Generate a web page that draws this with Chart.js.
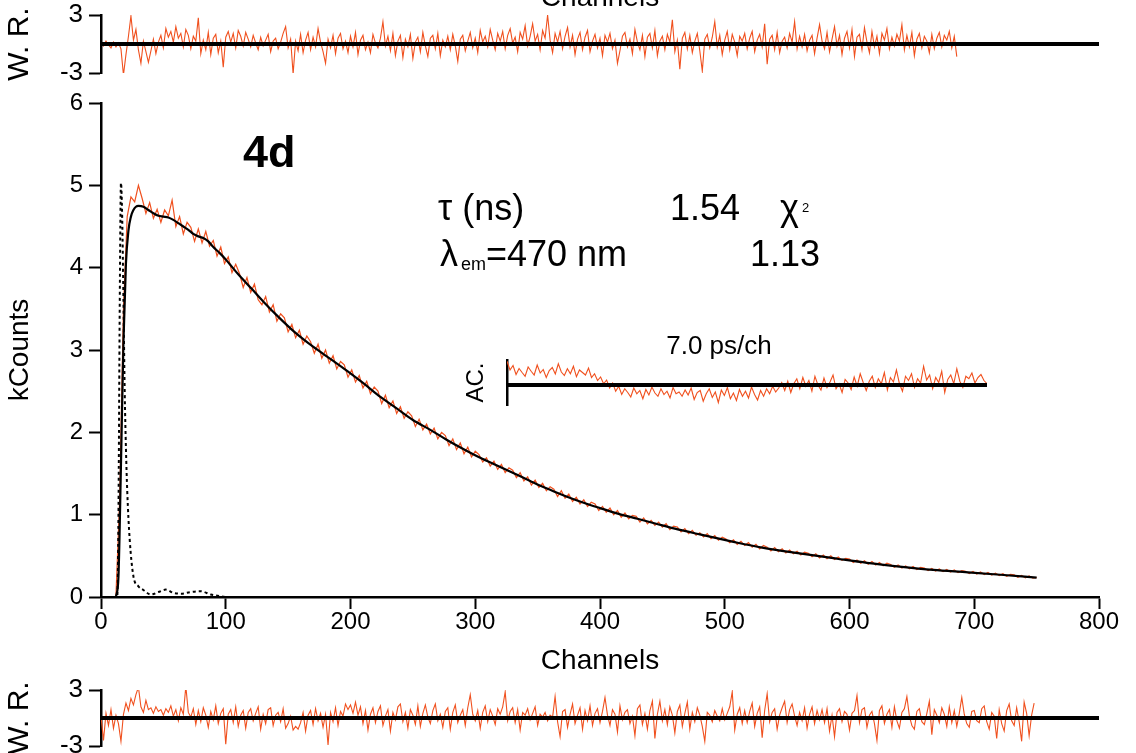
<!DOCTYPE html>
<html>
<head>
<meta charset="utf-8">
<title>4d decay</title>
<script src="https://cdn.jsdelivr.net/npm/chart.js@4.4.1/dist/chart.umd.min.js"></script>
<style>
  html, body { margin: 0; padding: 0; background: #fff; overflow: hidden; }
  #wrap { position: relative; width: 1136px; height: 753px; overflow: hidden; background: #fff; }
  #wrap canvas { position: absolute; left: 0; }
</style>
</head>
<body>
<div id="wrap">
  <canvas id="top-res" width="1136" height="96" style="top:-4px"></canvas>
  <canvas id="decay" width="1136" height="615" style="top:85px"></canvas>
  <canvas id="bottom-res" width="1136" height="100" style="top:670px"></canvas>
  <canvas id="ac" width="580" height="100" style="top:320px;left:440px"></canvas>
</div>
<script>
const FONT = '"Liberation Sans", Arial, Helvetica, sans-serif'
const ORANGE = '#f0501e'

// fitted decay curve (kCounts) at selected channels
const fitChannels = [12, 14, 16, 18, 20, 22, 24, 26, 28, 30, 34, 38, 42, 46, 50, 54, 58, 62, 66, 70,
	74, 78, 82, 86, 90, 95, 100, 110, 121, 130, 143, 155, 170, 185, 197, 210, 224, 237, 250, 264,
	277, 290, 304, 317, 330, 344, 357, 370, 384, 400, 415, 430, 445, 460, 480, 507, 530, 560, 590, 614,
	640, 667, 695, 721, 750]
const fitCounts = [0, 0.25, 1.6, 3.1, 4.05, 4.45, 4.62, 4.70, 4.74, 4.75, 4.74, 4.70, 4.66, 4.63, 4.62, 4.61, 4.58, 4.54, 4.50, 4.46,
	4.41, 4.38, 4.36, 4.32, 4.25, 4.18, 4.10, 3.92, 3.74, 3.59, 3.39, 3.22, 3.04, 2.88, 2.75, 2.60, 2.43, 2.29, 2.15, 2.03,
	1.91, 1.80, 1.69, 1.60, 1.51, 1.41, 1.32, 1.24, 1.16, 1.08, 1.01, 0.95, 0.89, 0.83, 0.76, 0.67, 0.60, 0.53, 0.465, 0.415,
	0.37, 0.33, 0.30, 0.27, 0.235]

// instrument response (dotted)
const irfChannels = [10, 13, 14, 15, 16, 17, 18, 19, 20, 21, 23, 26, 30, 34, 40, 46, 52, 58, 64, 72, 80, 88, 96, 100]
const irfCounts = [0, 0, 1.0, 3.5, 5.03, 4.6, 3.6, 2.5, 1.8, 1.3, 0.7, 0.25, 0.13, 0.085, 0.03, 0.06, 0.09, 0.05, 0.04, 0.06, 0.07, 0.03, 0.01, 0]

// measured decay, every 3rd channel from channel 12
const decayFirst = 12
const decayStep = 3
const decayCounts = [
	0.02, 1.2, 3.5, 4.62, 4.86, 4.80, 5.00, 4.84, 4.66, 4.79,
	4.60, 4.71, 4.55, 4.70, 4.63, 4.82, 4.50, 4.62, 4.41, 4.55,
	4.49, 4.32, 4.47, 4.30, 4.44, 4.26, 4.33, 4.14, 4.25, 4.05,
	4.13, 3.94, 4.04, 3.93, 3.76, 3.88, 3.70, 3.80, 3.61, 3.55,
	3.65, 3.46, 3.55, 3.35, 3.44, 3.39, 3.22, 3.31, 3.15, 3.24,
	3.07, 3.17, 3.10, 2.96, 3.07, 2.90, 3.00, 2.84, 2.93, 2.77,
	2.86, 2.82, 2.67, 2.76, 2.61, 2.69, 2.54, 2.62, 2.47, 2.55,
	2.50, 2.35, 2.45, 2.30, 2.38, 2.23, 2.31, 2.17, 2.25, 2.20,
	2.07, 2.16, 2.03, 2.10, 1.98, 2.05, 1.92, 2.00, 1.96, 1.84,
	1.92, 1.79, 1.87, 1.74, 1.82, 1.70, 1.77, 1.73, 1.64, 1.69,
	1.59, 1.65, 1.55, 1.61, 1.51, 1.57, 1.54, 1.45, 1.51, 1.41,
	1.46, 1.36, 1.42, 1.33, 1.38, 1.29, 1.34, 1.31, 1.22, 1.29,
	1.20, 1.25, 1.16, 1.21, 1.13, 1.18, 1.10, 1.15, 1.13, 1.05,
	1.10, 1.03, 1.08, 1.00, 1.05, 0.97, 1.02, 0.95, 0.99, 0.98,
	0.91, 0.96, 0.89, 0.93, 0.87, 0.91, 0.85, 0.89, 0.82, 0.86,
	0.85, 0.79, 0.83, 0.77, 0.81, 0.75, 0.78, 0.73, 0.77, 0.71,
	0.745, 0.69, 0.725, 0.705, 0.66, 0.695, 0.64, 0.675, 0.625, 0.66,
	0.605, 0.64, 0.585, 0.625, 0.605, 0.56, 0.60, 0.55, 0.585, 0.535,
	0.57, 0.525, 0.555, 0.51, 0.545, 0.53, 0.49, 0.525, 0.475, 0.51,
	0.465, 0.50, 0.455, 0.485, 0.445, 0.47, 0.46, 0.42, 0.45, 0.41,
	0.44, 0.398, 0.43, 0.39, 0.418, 0.38, 0.41, 0.395, 0.36, 0.39,
	0.352, 0.378, 0.343, 0.37, 0.335, 0.36, 0.352, 0.32, 0.347, 0.315,
	0.34, 0.308, 0.334, 0.302, 0.327, 0.296, 0.32, 0.312, 0.286, 0.31,
	0.28, 0.303, 0.272, 0.297, 0.266, 0.29, 0.26, 0.282, 0.252, 0.275,
	0.268, 0.24, 0.262, 0.234, 0.255, 0.228, 0.238]

// weighted residuals, every 2nd channel from channel 0
const resStep = 2
const resTop = [
	0.1, -0.2, 0.3, -0.1, -0.4, 0.2, -0.3, 0.1, -0.5, -3.2, -1.1, 0.8, 2.9, 0.4, 1.5, -0.6, -2.0, 0.3, -0.8, -1.9,
	-0.7, 0.5, -1.0, 0.2, 0.9, -0.4, 1.6, 0.7, 1.3, 0.2, 1.8, 0.6, 1.1, -0.3, 1.5, 0.9, -0.5, 0.8, 0.3, 2.7,
	-1.0, 0.4, -0.6, 1.2, -1.1, 0.6, 1.0, -0.9, 0.3, -2.4, 0.7, 1.3, 0.2, 1.1, -0.4, 1.4, 0.8, -0.2, 1.2, 0.5,
	-0.3, 0.9, 0.1, -0.6, 0.7, -0.2, 0.4, 1.0, -0.8, 0.3, 0.6, -0.5, 0.2, 1.1, 1.8, -0.4, 0.5, -3.1, 0.3, -0.7,
	1.0, -0.9, 0.4, 1.2, -0.6, 0.7, -0.3, 1.6, 0.2, -0.8, -2.0, 0.5, -0.4, 0.9, -1.0, 0.6, 1.1, -0.5, 0.3, -0.9,
	0.8, -0.3, 1.2, -1.1, 0.4, 0.9, -0.6, 0.2, -0.9, 1.0, 0.1, -0.4, 0.6, 2.3, -0.2, 0.8, -0.7, 1.1, -1.2, 0.3,
	0.9, -1.4, 0.5, -0.3, 1.0, -1.5, 0.2, 0.7, -0.8, 1.2, -0.2, -1.3, 0.6, 0.9, -0.5, 1.1, -1.2, 0.4, -0.3, 0.8,
	-0.6, 1.0, -0.2, -1.8, 0.5, 0.9, -0.7, 0.3, 1.2, -0.4, 0.6, -0.9, 1.4, 0.2, 0.8, -0.3, 1.5, 0.4, -0.6, 1.1,
	0.3, 1.3, -0.5, 0.9, 1.6, 0.1, 0.7, -0.8, 1.2, 0.5, 1.9, -0.2, 0.8, 2.1, 0.3, 1.0, -0.6, 1.4, 0.6, 3.0,
	0.4, -0.9, 1.1, 0.2, 1.3, -0.5, 0.8, 1.7, -0.3, 0.9, -1.1, 0.5, 1.2, -0.6, 0.7, 1.4, -0.8, 0.3, 1.0, -0.4,
	0.6, -1.2, 0.9, 0.2, 1.1, -0.5, 0.4, -2.0, -0.7, 0.8, 1.2, -0.3, 0.5, -1.0, 1.5, 0.2, -0.6, 0.9, -1.3, 0.7,
	1.1, -0.4, 1.4, -1.2, 0.3, 0.8, -0.6, 1.0, 0.2, 2.5, -0.8, 0.4, -2.6, 0.6, 1.2, -0.5, 0.9, -0.9, 0.3, 1.1,
	-0.7, -2.8, 0.5, 1.0, -0.4, 0.7, 2.3, -0.3, 0.9, -1.1, 0.4, 1.3, -0.6, 1.0, 0.2, -1.2, 0.8, 0.3, 1.1, -0.5,
	0.6, 1.3, -0.8, 0.4, 1.0, -0.3, 2.1, -2.1, 0.5, 0.9, -0.6, 1.2, -0.9, 0.3, 0.7, -0.4, 1.1, 0.2, 2.3, -0.5,
	0.8, -0.3, 1.0, -0.7, 0.4, 0.9, -1.0, 0.6, 2.0, 0.3, -0.5, 1.2, -0.8, 0.5, 1.8, -0.2, 0.9, -1.1, 0.6, 1.3,
	-0.4, 1.5, -1.3, 0.7, 1.0, -0.6, 1.7, 0.2, -0.9, 1.3, -0.3, 0.8, -1.0, 1.1, 0.4, 1.6, -0.5, 0.7, -0.2, 1.0,
	0.3, 2.0, -0.6, 0.9, -0.3, 1.2, -1.2, 0.5, 1.1, -0.4, 0.8, 0.3, -0.9, 1.0, -0.5, 0.6, 1.2, -0.3, 0.9, 0.4,
	1.3, -0.4, 0.8, -1.3]
const resBottom = [
	0.2, -2.4, 0.5, -0.8, 0.9, -1.1, 0.3, -0.6, -2.5, 0.4, 1.6, 0.8, 2.1, 1.4, 2.5, 3.3, 1.2, 0.6, 1.9, 0.9,
	1.1, 0.5, 1.2, 0.7, 0.9, 0.3, 1.0, 0.6, 1.3, 0.2, 0.9, -0.3, 1.1, 0.4, 3.4, 0.6, 0.1, 1.0, -0.7, 0.8,
	-0.4, 1.1, 0.3, -1.0, 0.7, -0.2, 1.3, -0.6, 0.5, 1.0, -2.8, 0.4, 0.9, -0.5, 1.2, -0.9, 0.3, 0.8, -1.1, 0.6,
	1.0, -0.3, 0.5, 1.2, -1.2, 0.4, -0.6, 0.9, 1.1, -0.8, 0.3, 0.6, -0.4, 1.0, -1.1, -0.6, 0.2, -1.3, -0.9, -1.2,
	-0.5, 0.6, -1.4, 0.3, 0.8, -0.7, 1.0, -0.3, 0.5, -1.0, 0.4, -2.9, 0.6, -0.4, 1.1, -0.8, 0.7, 0.2, 1.5, 0.9,
	1.4, 0.5, 1.7, 0.3, 1.2, -0.6, 0.8, -1.3, 0.4, 1.1, -0.5, 0.7, 1.3, -0.8, 0.2, 0.9, -1.4, 0.6, -0.2, 1.2,
	1.5, -0.4, 0.6, -1.1, 0.9, 0.3, -0.7, 1.3, -0.9, 0.5, 1.4, 0.1, -0.6, 0.8, 1.5, -0.3, 0.4, -1.0, 0.7, 1.1,
	-1.2, 0.6, 1.4, -0.5, 0.3, 0.9, -0.8, 1.1, 2.5, 0.4, -0.3, 0.8, -1.1, 0.6, 1.3, -0.4, 0.9, 0.2, -0.7, 1.0,
	0.4, 1.2, 2.8, -0.3, 0.7, 1.1, -0.5, 0.9, -1.3, 0.6, 0.3, 1.0, -0.2, 0.5, 1.2, -0.8, 0.4, 0.1, 0.6, -0.3,
	0.3, 0.1, 2.3, -0.4, -2.0, 0.7, 0.9, -1.0, 0.4, 1.5, -0.6, 0.3, 1.1, -1.2, 0.8, -0.3, 1.3, -0.8, 0.5, 1.0,
	-0.5, 0.7, 2.2, 0.3, -0.8, 0.9, 0.4, -1.5, 1.3, -0.2, 0.6, 0.9, -0.6, 0.2, -1.9, 1.0, 1.4, -0.7, 0.5, -1.2,
	0.8, 1.8, -2.2, 0.4, 1.8, -0.3, 0.9, -0.7, 1.2, 0.3, -1.6, 0.7, 1.4, -0.9, 0.5, 1.7, -1.2, 0.6, -0.4, 1.1,
	0.3, -0.9, -2.5, 0.6, 0.3, -0.4, 0.8, 0.2, -0.3, 1.0, -0.2, 0.5, 1.2, 2.8, -1.3, 0.4, 1.1, -0.6, 0.8, -0.5,
	0.7, 1.6, -0.9, 0.5, 1.2, -2.1, 0.8, 2.6, -0.4, 0.6, 1.0, -1.2, 0.3, 1.1, 1.8, -0.5, 0.9, 1.5, 0.2, -0.8,
	0.6, -0.3, 1.1, -1.1, 0.4, 1.2, -0.6, 0.8, -0.2, 0.9, -0.5, 1.0, -1.4, 0.3, -2.0, 0.6, 1.0, -0.4, 0.7, 0.4,
	-1.3, 0.5, 0.8, 2.4, -0.5, 0.9, 1.1, -1.0, 0.3, 0.7, -0.6, -2.4, 0.8, 1.3, -0.6, 0.4, 0.9, -1.0, 1.2, -0.3,
	-1.1, 0.6, 1.0, 2.3, 0.2, -0.8, -1.2, 0.7, 1.0, -0.4, -0.7, 0.5, 1.8, -1.8, 0.9, 0.3, -0.5, 1.1, 0.4, -0.9,
	1.2, -0.5, 0.8, -0.9, 0.5, 2.2, 0.4, -0.6, -1.0, 0.7, 0.8, -0.3, -0.5, 1.0, 1.3, -0.4, -1.2, 0.6, 0.2, -2.2,
	0.9, -0.6, -1.4, 0.8, 1.5, -0.3, -0.8, 1.1, -0.4, -2.5, 1.7, 0.5, -1.9, 0.3, 1.6]

// autocorrelation of the residuals, one value per lag step
const acValues = [
	0.95, 0.60, 0.78, 0.42, 0.66, 0.50, 0.35, 0.72, 0.55, 0.40, 0.80, 0.48, 0.62, 0.30, 0.58, 0.70, 0.44, 0.85, 0.52, 0.38,
	0.65, 0.45, 0.75, 0.33, 0.60, 0.50, 0.40, 0.68, 0.30, 0.45, 0.18, 0.32, 0.05, 0.20, -0.12, 0.08, -0.25, -0.05, -0.38, -0.15,
	-0.30, -0.48, -0.12, -0.35, -0.22, -0.55, -0.18, -0.40, -0.08, -0.32, -0.45, -0.15, -0.38, -0.25, -0.52, -0.10, -0.35, -0.28, -0.45, -0.20,
	-0.40, -0.12, -0.58, -0.30, -0.22, -0.65, -0.35, -0.15, -0.50, -0.28, -0.70, -0.20, -0.42, -0.10, -0.55, -0.32, -0.62, -0.18, -0.45, -0.25,
	-0.52, -0.08, -0.38, -0.60, -0.22, -0.45, -0.15, -0.35, -0.05, -0.28, -0.12, 0.10, -0.22, 0.15, -0.30, 0.05, 0.25, -0.15, 0.30, -0.05,
	0.18, -0.25, 0.35, 0.00, -0.20, 0.28, -0.10, 0.12, 0.40, -0.15, 0.05, -0.30, 0.22, 0.08, -0.18, 0.32, -0.05, 0.45, 0.10, -0.22,
	0.15, 0.35, -0.10, 0.25, 0.05, 0.50, -0.20, 0.30, 0.12, 0.60, 0.05, -0.25, 0.35, 0.18, 0.45, -0.10, 0.25, 0.08, 0.75, 0.20,
	0.40, -0.15, 0.30, 0.10, 0.55, -0.30, 0.22, 0.40, 0.05, 0.65, 0.15, -0.10, 0.35, 0.25, 0.48, 0.08, 0.30, 0.42, 0.18, 0.05]

const pairUp = (xs, ys) => ys.map((y, i) => ({x: xs[i], y}))
const onGrid = (first, step, ys) => ys.map((y, i) => ({x: first + i * step, y}))

const line = (data, color, width, extra) => Object.assign({
	data, borderColor: color, borderWidth: width, pointRadius: 0, fill: false
}, extra || {})

const baseOptions = (padding) => ({
	responsive: false,
	animation: false,
	devicePixelRatio: 1,
	layout: {padding},
	plugins: {legend: {display: false}, tooltip: {enabled: false}},
	events: []
})

const axisFont = (size) => ({family: FONT, size, lineHeight: 1})
const tickGrid = {drawOnChartArea: false, drawTicks: true, tickLength: 12, tickWidth: 2, tickColor: '#000', color: '#000'}
const axisBorder = {display: true, color: '#000', width: 2.5}

// ---- residual strips (top and bottom) ----
const residualChart = (id, values, pad, extraPlugins) => new Chart(document.getElementById(id), {
	type: 'line',
	data: {datasets: [
		line([{x: 0, y: 0}, {x: 800, y: 0}], '#000', 4),
		line(onGrid(0, resStep, values), ORANGE, 1.1)
	]},
	options: Object.assign(baseOptions(pad), {
		scales: {
			x: {type: 'linear', min: 0, max: 800, display: false},
			y: {
				type: 'linear', min: -3, max: 3,
				afterBuildTicks: ax => { ax.ticks = [{value: -3}, {value: 3}] },
				afterFit: ax => { ax.width = 101 },
				grid: tickGrid,
				border: axisBorder,
				ticks: {color: '#000', font: axisFont(26), padding: 6},
				title: {display: true, text: 'W. R.', color: '#000', font: axisFont(30), padding: {top: 5}}
			}
		}
	}),
	plugins: extraPlugins || []
})

// the x-axis title of the panel above shows only its lower edge
const clippedTitle = {
	id: 'clippedTitle',
	afterDraw(chart) {
		const ctx = chart.ctx
		ctx.save()
		ctx.fillStyle = '#000'
		ctx.font = `28px ${FONT}`
		ctx.textAlign = 'center'
		ctx.textBaseline = 'alphabetic'
		ctx.fillText('Channels', 600, 10)
		ctx.restore()
	}
}

residualChart('top-res', resTop, {left: 0, right: 37, top: 19, bottom: 19}, [clippedTitle])
residualChart('bottom-res', resBottom, {left: 0, right: 37, top: 20, bottom: 24})

// ---- main decay panel ----
const decayNotes = {
	id: 'decayNotes',
	afterDraw(chart) {
		const ctx = chart.ctx
		ctx.save()
		ctx.fillStyle = '#000'
		ctx.textAlign = 'left'
		ctx.textBaseline = 'alphabetic'
		ctx.font = `bold 45px ${FONT}`
		ctx.fillText('4d', 243, 82)
		ctx.font = `36px ${FONT}`
		ctx.fillText('τ (ns)', 438, 135)
		ctx.fillText('1.54', 670, 135)
		ctx.fillText('χ', 780, 135)
		ctx.fillText('λ', 440, 181)
		ctx.fillText('=470 nm', 486, 181)
		ctx.fillText('1.13', 750, 181)
		ctx.font = `13px ${FONT}`
		ctx.fillText('2', 802, 127)
		ctx.font = `18px ${FONT}`
		ctx.fillText('em', 461, 185)
		ctx.restore()
	}
}

new Chart(document.getElementById('decay'), {
	type: 'line',
	data: {datasets: [
		line(pairUp(fitChannels, fitCounts), '#000', 2.2, {cubicInterpolationMode: 'monotone'}),
		line(pairUp(irfChannels, irfCounts), '#000', 2, {borderDash: [3, 3], cubicInterpolationMode: 'monotone'}),
		line(onGrid(decayFirst, decayStep, decayCounts), ORANGE, 1.2)
	]},
	options: Object.assign(baseOptions({left: 0, right: 37, top: 18, bottom: 0}), {
		scales: {
			x: {
				type: 'linear', min: 0, max: 800,
				afterFit: ax => { ax.height = 103 },
				grid: tickGrid,
				border: axisBorder,
				ticks: {stepSize: 100, color: '#000', font: axisFont(24), padding: 1, maxRotation: 0},
				title: {display: true, text: 'Channels', color: '#000', font: axisFont(28), padding: {bottom: 25}}
			},
			y: {
				type: 'linear', min: 0, max: 6,
				afterFit: ax => { ax.width = 101 },
				grid: tickGrid,
				border: axisBorder,
				ticks: {stepSize: 1, color: '#000', font: axisFont(24), padding: 6},
				title: {display: true, text: 'kCounts', color: '#000', font: axisFont(28), padding: {top: 6}}
			}
		}
	}),
	plugins: [decayNotes]
})

// ---- autocorrelation inset ----
const acLabel = {
	id: 'acLabel',
	afterDraw(chart) {
		const ctx = chart.ctx
		ctx.save()
		ctx.fillStyle = '#000'
		ctx.font = `26px ${FONT}`
		ctx.textAlign = 'center'
		ctx.textBaseline = 'alphabetic'
		ctx.fillText('7.0 ps/ch', 279, 34)
		ctx.restore()
	}
}

new Chart(document.getElementById('ac'), {
	type: 'line',
	data: {datasets: [
		line([{x: 0, y: 0}, {x: acValues.length - 1, y: 0}], '#000', 4),
		line(onGrid(0, 1, acValues), ORANGE, 1.1)
	]},
	options: Object.assign(baseOptions({left: 0, right: 33, top: 40, bottom: 15}), {
		scales: {
			x: {type: 'linear', min: 0, max: acValues.length - 1, display: false},
			y: {
				type: 'linear', min: -0.8, max: 1.0,
				afterFit: ax => { ax.width = 67 },
				grid: {display: false},
				border: axisBorder,
				ticks: {display: false},
				title: {display: true, text: 'AC.', color: '#000', font: axisFont(24), padding: {top: 24}}
			}
		}
	}),
	plugins: [acLabel]
})
</script>
</body>
</html>
